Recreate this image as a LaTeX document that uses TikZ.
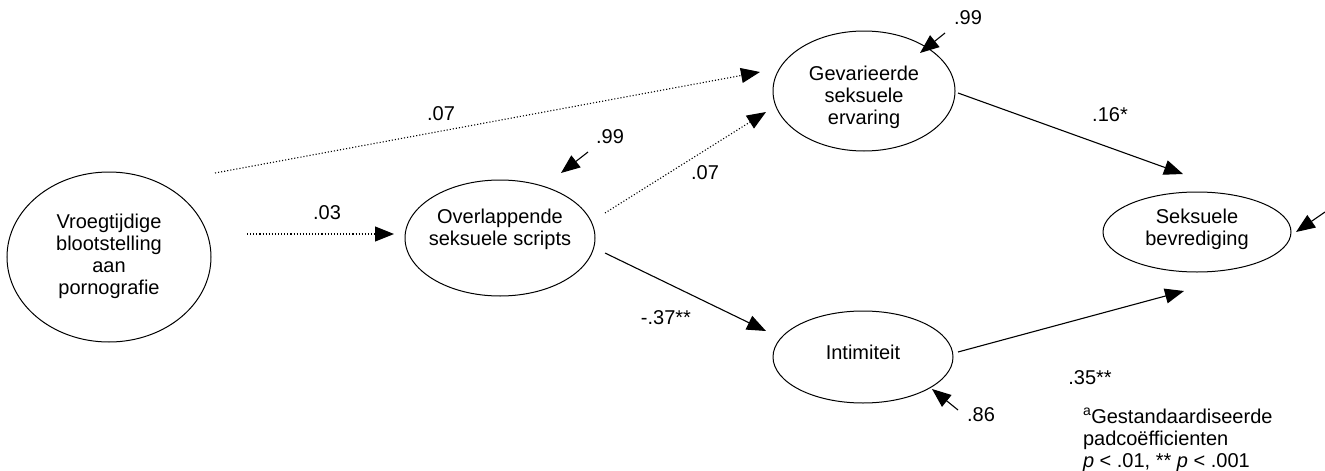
\documentclass[tikz,border=0pt]{standalone}
\usepackage{fontspec}
\setmainfont{Liberation Sans}
\usetikzlibrary{shapes.geometric,arrows.meta}
\begin{document}
\begin{tikzpicture}[x=1pt,y=-1pt,
  every node/.style={inner sep=0pt,outer sep=0pt},
  var/.style={draw,ellipse,line width=1pt},
  vtext/.style={align=center,font=\fontsize{20}{22}\selectfont},
  lbl/.style={font=\fontsize{20}{22}\selectfont},
  path/.style={line width=1.1pt,-{Triangle[length=19pt,width=15pt]}},
  weak/.style={path,dotted,line width=1.1pt},
  err/.style={line width=1.1pt,-{Triangle[length=19pt,width=15pt]}}]
\useasboundingbox (0,0) rectangle (1325,471);
% variables
\node[var,minimum width=204pt,minimum height=170pt] (vro) at (109,257) {};
\node[vtext] (vrot) at (109,256) {Vroegtijdige\\blootstelling\\aan\\pornografie};
\node[var,minimum width=190pt,minimum height=116pt] (ovl) at (500,238) {};
\node[vtext] (ovlt) at (500,229) {Overlappende\\seksuele scripts};
\node[var,minimum width=182pt,minimum height=120pt] (gev) at (864,91) {};
\node[vtext] (gevt) at (864,97) {Gevarieerde\\seksuele\\ervaring};
\node[var,minimum width=180pt,minimum height=92pt] (int) at (863,357) {};
\node[vtext] (intt) at (863,352) {Intimiteit};
\node[var,minimum width=188pt,minimum height=80pt] (bev) at (1197,232) {};
\node[vtext] (bevt) at (1197,229) {Seksuele\\bevrediging};
% connector end points
\coordinate (a1) at (215,173); \coordinate (a2) at (760,72);
\coordinate (b1) at (247,234); \coordinate (b2) at (394,234);
\coordinate (c1) at (605,213); \coordinate (c2) at (766,112);
\coordinate (d1) at (605,253); \coordinate (d2) at (766,331);
\coordinate (e1) at (958,93);  \coordinate (e2) at (1183,174);
\coordinate (f1) at (958,352); \coordinate (f2) at (1184,291);
\coordinate (g1) at (945,33);  \coordinate (g2) at (920,53);
\coordinate (h1) at (588,152); \coordinate (h2) at (561,173);
\coordinate (i1) at (958,410); \coordinate (i2) at (932,389);
\coordinate (j1) at (1325,212); \coordinate (j2) at (1296,232);
% paths
\draw[weak] (a1) -- (a2);
\draw[weak] (b1) -- (b2);
\draw[weak] (c1) -- (c2);
\draw[path] (d1) -- (d2);
\draw[path] (e1) -- (e2);
\draw[path] (f1) -- (f2);
\draw[err] (g1) -- (g2);
\draw[err] (h1) -- (h2);
\draw[err] (i1) -- (i2);
\draw[err] (j1) -- (j2);
% labels
\node[lbl] (l1) at (441,114) {.07};
\node[lbl] (l2) at (327,213) {.03};
\node[lbl] (l3) at (705,173) {.07};
\node[lbl] (l4) at (666,318) {-.37**};
\node[lbl] (l5) at (1110,115) {.16*};
\node[lbl] (l6) at (1090,378) {.35**};
\node[lbl] (l7) at (968,18) {.99};
\node[lbl] (l8) at (610,137) {.99};
\node[lbl] (l9) at (981,415) {.86};
% footnote
\node[lbl,anchor=base west] (n1) at (1083,423) {\textsuperscript{a}Gestandaardiseerde};
\node[lbl,anchor=base west] (n2) at (1083,445) {padcoëfficienten};
\node[lbl,anchor=base west] (n3) at (1083,467) {\textit{p} < .01, ** \textit{p} < .001};
\end{tikzpicture}
\end{document}
